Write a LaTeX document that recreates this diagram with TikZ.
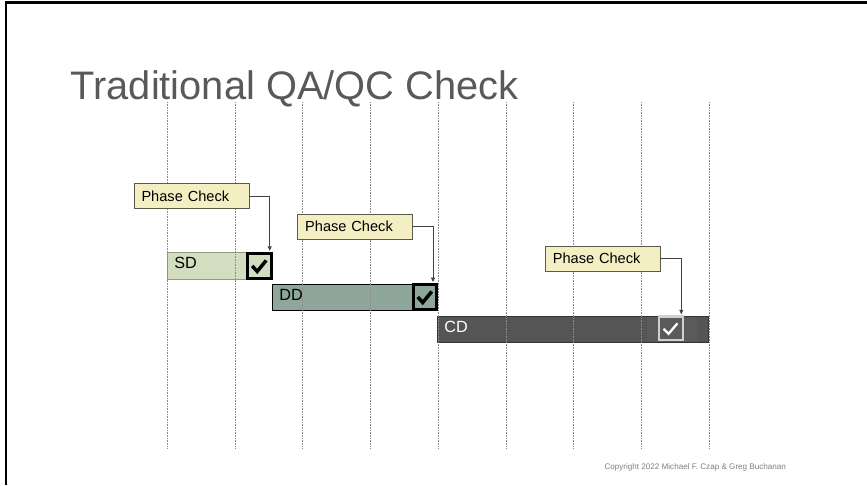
\documentclass[tikz,border=0pt]{standalone}
\usepackage{fontspec}
\setmainfont{Liberation Sans}
\usetikzlibrary{calc,arrows.meta}
\definecolor{titlegray}{HTML}{595959}
\definecolor{pcfill}{HTML}{F3EFC3}
\definecolor{pcdraw}{HTML}{5A5A4A}
\definecolor{sdfill}{HTML}{D3DEC0}
\definecolor{sddraw}{HTML}{8F9A80}
\definecolor{ddfill}{HTML}{8EA79A}
\definecolor{cdfill}{HTML}{555555}
\definecolor{cdband}{HTML}{5A5A5A}
\definecolor{ckthree}{HTML}{5A5A5A}
\definecolor{ckborder}{HTML}{D0D0D0}
\definecolor{gridgray}{HTML}{8C8C8C}
\definecolor{conngray}{HTML}{404040}
\definecolor{copygray}{HTML}{7F7F7F}
\begin{document}
\begin{tikzpicture}[x=1pt,y=-1pt,
  pcbox/.style={draw=pcdraw, line width=0.8pt, fill=pcfill, anchor=north west,
    text width=100pt, inner xsep=7.5pt, inner ysep=0pt, minimum height=25.4pt,
    align=left, font=\fontsize{14.6}{16}\selectfont, outer sep=0pt},
  bar/.style={anchor=north west, inner xsep=7pt, inner ysep=0pt, align=left,
    font=\fontsize{16.2}{18}\selectfont, text depth=4.5pt, outer sep=0pt},
  chkbox/.style={draw, inner sep=0pt, anchor=center},
  conn/.style={draw=conngray, line width=0.8pt, shorten >=1pt,
    -{Triangle[length=4.5pt,width=4pt]}},
  gridline/.style={draw=gridgray, line width=0.6pt, densely dotted},
  tick/.style={line cap=butt, line join=miter},
]
\useasboundingbox (0,0) rectangle (867,485);
% frame
\draw[line width=2.6pt] (6,485) -- (6,2.2) -- (867,2.2);
% title
\node[anchor=base west, inner sep=0pt, text=titlegray,
  font=\fontsize{39.8}{44}\selectfont] (title) at (70.5,99.5) {Traditional QA/QC Check};
% bars
\node[bar, fill=sdfill, draw=sddraw, line width=0.7pt, text width=64.7pt,
  minimum height=27pt] (sd) at (167.3,252) {SD};
\node[bar, fill=ddfill, draw=black, line width=0.8pt, text width=125.7pt,
  minimum height=26pt] (dd) at (272.3,284) {DD};
\node[bar, fill=cdfill, draw=black!80, line width=0.8pt, text width=257pt,
  minimum height=26.7pt, text=white] (cd) at (437.3,316) {CD};
\node[fill=cdband, minimum width=50pt, minimum height=25.5pt, inner sep=0pt,
  anchor=north west] (cdb) at (646.7,316.6) {};
% grid lines
\foreach \i in {0,...,8}
  \draw[gridline] ({167.3+67.7*\i},102) -- ({167.3+67.7*\i},448);
% check boxes
\node[chkbox, draw=black, line width=3pt, fill=sdfill, minimum width=24pt,
  minimum height=25.3pt] (ck1) at (259.2,265.9) {};
\node[chkbox, draw=black, line width=3pt, fill=ddfill, minimum width=22.5pt,
  minimum height=25pt] (ck2) at (424.75,297) {};
\node[chkbox, draw=ckborder, line width=2.2pt, fill=ckthree, minimum width=23.8pt,
  minimum height=23.8pt] (ck3) at (671,328.3) {};
\draw[tick, line width=3.5pt, black] ($(ck1.center)+(-7,0)$) -- ++(5,5.5) -- ++(9,-11);
\draw[tick, line width=3.5pt, black] ($(ck2.center)+(-7,0)$) -- ++(5,5.5) -- ++(9,-11);
\draw[tick, line width=2.3pt, white] ($(ck3.center)+(-7.5,0.5)$) -- ++(5,5) -- ++(9,-10.5);
% phase check callouts
\node[pcbox] (pc1) at (134,183.3) {Phase Check};
\node[pcbox] (pc2) at (297.7,214) {Phase Check};
\node[pcbox] (pc3) at (545.3,246) {Phase Check};
\draw[conn] (pc1.east) -| ([xshift=-3pt]ck1.north east);
\draw[conn] (pc2.east) -| ([xshift=-4.5pt]ck2.north east);
\draw[conn] (pc3.east) -| ([xshift=-2.7pt]ck3.north east);
% copyright
\node[anchor=west, inner sep=0pt, text=copygray, font=\fontsize{8.1}{9}\selectfont]
  (copy) at (604.3,467) {Copyright 2022 Michael F. Czap \& Greg Buchanan};
\end{tikzpicture}
\end{document}
